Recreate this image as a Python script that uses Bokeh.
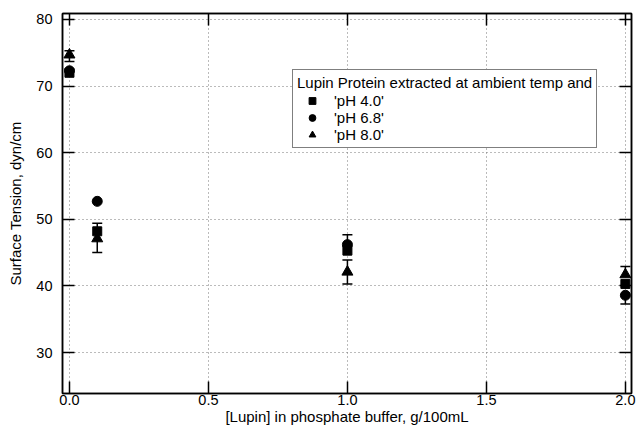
from bokeh.plotting import figure
from bokeh.models import (Range1d, FixedTicker, LinearAxis, NumeralTickFormatter,
                          ColumnDataSource, Whisker, TeeHead, Legend, LegendItem,
                          CustomJSTickFormatter)
from bokeh.embed import file_html
from bokeh.resources import INLINE

# ---- data ----
conc = [0.0, 0.1, 1.0, 2.0]
ph40 = [72.0, 48.2, 45.3, 40.3]
ph40_upper = [72.0, 49.4, 47.7, 40.3]
ph40_lower = [72.0, 48.2, 45.3, 40.3]
ph68 = [72.3, 52.7, 46.2, 38.6]
ph68_upper = [72.3, 52.7, 46.2, 38.6]
ph68_lower = [72.3, 52.7, 46.2, 37.3]
ph80 = [74.7, 47.1, 42.1, 41.7]
ph80_upper = [75.3, 47.1, 43.9, 42.9]
ph80_lower = [73.7, 45.0, 40.3, 41.7]
labels = ["'pH 4.0'", "'pH 6.8'", "'pH 8.0'"]
legend_title = "Lupin Protein extracted at ambient temp and"
x_ticks = [0.0, 0.5, 1.0, 1.5, 2.0]
y_ticks = [30, 40, 50, 60, 70, 80]

FONT = "Liberation Sans"

p = figure(width=639, height=429, output_backend="svg", toolbar_location=None,
           x_range=Range1d(-0.025, 2.022), y_range=Range1d(23.85, 80.9),
           min_border_left=62, min_border_right=8, min_border_top=13, min_border_bottom=36)
p.background_fill_color = "white"
p.border_fill_color = "white"
p.outline_line_color = "black"
p.outline_line_width = 1.5

# axes
for ax in (p.xaxis[0], p.yaxis[0]):
    ax.major_tick_in = 12
    ax.major_tick_out = 0
    ax.minor_tick_line_color = None
    ax.axis_line_width = 1.5
    ax.major_tick_line_width = 1.5
    ax.axis_line_color = "black"
    ax.major_tick_line_color = "black"
    ax.major_label_text_font = FONT
    ax.major_label_text_font_size = "14.5px"
    ax.major_label_text_color = "black"
    ax.axis_label_text_font = FONT
    ax.axis_label_text_font_size = "15px"
    ax.axis_label_text_font_style = "normal"
    ax.axis_label_text_color = "black"

p.xaxis[0].ticker = FixedTicker(ticks=x_ticks)
p.xaxis[0].formatter = NumeralTickFormatter(format="0.0")
p.xaxis[0].axis_label = "[Lupin] in phosphate buffer, g/100mL"
p.xaxis[0].major_label_standoff = 1
p.xaxis[0].axis_label_standoff = 0

p.yaxis[0].ticker = FixedTicker(ticks=y_ticks)
p.yaxis[0].axis_label = "Surface Tension, dyn/cm"
p.yaxis[0].major_label_standoff = 10
p.yaxis[0].axis_label_standoff = 9

# mirrored axes (ticks only, no labels)
blank = CustomJSTickFormatter(code="return ''")
right = LinearAxis(ticker=FixedTicker(ticks=y_ticks), formatter=blank)
top = LinearAxis(ticker=FixedTicker(ticks=x_ticks), formatter=blank)
for ax in (right, top):
    ax.major_tick_in = 12
    ax.major_tick_out = 0
    ax.minor_tick_line_color = None
    ax.axis_line_width = 1.5
    ax.major_tick_line_width = 1.5
    ax.major_label_standoff = 0
p.add_layout(right, "right")
p.add_layout(top, "above")

# grid
for g in (p.xgrid[0], p.ygrid[0]):
    g.grid_line_color = "#777777"
    g.grid_line_dash = "1 3"
    g.grid_line_width = 1
p.xgrid[0].ticker = FixedTicker(ticks=x_ticks)
p.ygrid[0].ticker = FixedTicker(ticks=y_ticks)

# error bars
series = [(ph40, ph40_upper, ph40_lower), (ph68, ph68_upper, ph68_lower), (ph80, ph80_upper, ph80_lower)]
up_x, up_b, up_t, lo_x, lo_b, lo_t = [], [], [], [], [], []
for ys, us, ls in series:
    for x, y, u, l in zip(conc, ys, us, ls):
        if u > y:
            up_x.append(x); up_b.append(y); up_t.append(u)
        if l < y:
            lo_x.append(x); lo_b.append(l); lo_t.append(y)
src_up = ColumnDataSource(dict(x=up_x, lower=up_b, upper=up_t))
src_lo = ColumnDataSource(dict(x=lo_x, lower=lo_b, upper=lo_t))
w1 = Whisker(source=src_up, base="x", upper="upper", lower="lower",
             line_color="black", line_width=1.5, lower_head=None,
             upper_head=TeeHead(size=10, line_color="black", line_width=1.5))
w2 = Whisker(source=src_lo, base="x", upper="upper", lower="lower",
             line_color="black", line_width=1.5, upper_head=None,
             lower_head=TeeHead(size=10, line_color="black", line_width=1.5))
p.add_layout(w1)
p.add_layout(w2)

# markers
r1 = p.scatter(conc, ph40, marker="square", size=9, color="black")
r2 = p.scatter(conc, ph68, marker="circle", size=10, color="black")
r3 = p.scatter(conc, ph80, marker="triangle", size=11, color="black")

legend = Legend(items=[LegendItem(label=labels[0], renderers=[r1]),
                       LegendItem(label=labels[1], renderers=[r2]),
                       LegendItem(label=labels[2], renderers=[r3])],
                location=(230, 245), title=legend_title)
legend.title_text_font = FONT
legend.title_text_font_size = "15px"
legend.title_text_font_style = "normal"
legend.title_text_color = "black"
legend.title_standoff = 1
legend.label_text_font = FONT
legend.label_text_font_size = "15px"
legend.label_text_color = "black"
legend.label_height = 17
legend.glyph_height = 17
legend.glyph_width = 30
legend.label_standoff = 7
legend.spacing = 0
legend.padding = 4
legend.margin = 0
legend.border_line_color = "black"
legend.border_line_width = 1
legend.background_fill_alpha = 1
p.add_layout(legend, "center")

open("out.html", "w").write(file_html(p, INLINE))
